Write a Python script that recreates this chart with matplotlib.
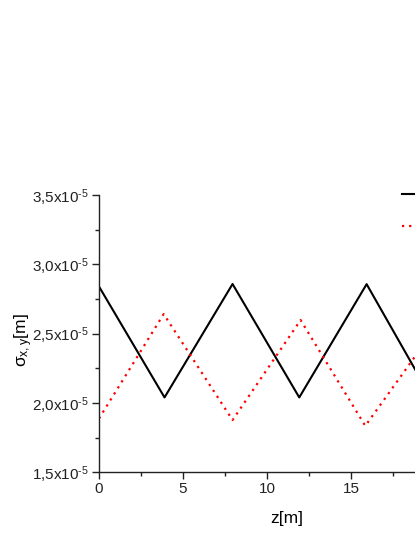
import matplotlib
matplotlib.use("Agg")
import matplotlib.pyplot as plt
from matplotlib.ticker import MultipleLocator, FixedLocator, FixedFormatter

plt.rcParams['font.family'] = ['Liberation Sans', 'DejaVu Sans']
plt.rcParams['mathtext.fontset'] = 'custom'
plt.rcParams['mathtext.rm'] = 'Liberation Sans'
plt.rcParams['mathtext.it'] = 'Liberation Sans:italic'

# data (sigma in units of 1e-5 m)
z_x = [0.0, 3.9, 7.95, 11.92, 15.93, 19.0]
sig_x = [2.84, 2.04, 2.858, 2.04, 2.857, 2.203]
z_y = [0.0, 3.85, 7.95, 12.0, 15.85, 19.0]
sig_y = [1.888, 2.641, 1.877, 2.598, 1.835, 2.367]

ytick_vals = [1.5, 2.0, 2.5, 3.0, 3.5]
ytick_labels = ['1,5x10$^{\\mathrm{‐5}}$', '2,0x10$^{\\mathrm{‐5}}$',
                '2,5x10$^{\\mathrm{‐5}}$', '3,0x10$^{\\mathrm{‐5}}$',
                '3,5x10$^{\\mathrm{‐5}}$']
xtick_vals = [0, 5, 10, 15]
xtick_labels = ['0', '5', '10', '15']

scale = 1e-5

fig = plt.figure(figsize=(4.15, 5.37), dpi=100)
ax = fig.add_axes([99/415, 1-472.3/537, 336/415, (472.3-195)/537])

ax.plot(z_x, [v*scale for v in sig_x], color='black', lw=1.5,
        label=r'$\mathrm{σ_x}$')
ax.plot(z_y, [v*scale for v in sig_y], color='red', lw=1.6,
        linestyle=(0, (1, 2.2)), label=r'$\mathrm{σ_y}$')

ax.set_xlim(0, 20)
ax.set_ylim(1.5*scale, 3.5*scale)
ax.xaxis.set_major_locator(FixedLocator(xtick_vals))
ax.xaxis.set_major_formatter(FixedFormatter(xtick_labels))
ax.xaxis.set_minor_locator(MultipleLocator(2.5))
ax.yaxis.set_major_locator(FixedLocator([v*scale for v in ytick_vals]))
ax.yaxis.set_major_formatter(FixedFormatter(ytick_labels))
ax.yaxis.set_minor_locator(MultipleLocator(0.25*scale))

for s in ['top', 'right']:
    ax.spines[s].set_visible(False)
for s in ['left', 'bottom']:
    ax.spines[s].set_linewidth(1.0)
    ax.spines[s].set_color('#222222')

ax.tick_params(which='major', direction='out', length=5, width=1,
               labelsize=11, colors='#222222', pad=2)
ax.tick_params(which='minor', direction='out', length=3, width=1,
               colors='#222222')

fig.text(287/415, 1-518/537, 'z[m]', fontsize=12.5, ha='center', va='center')
fig.text(24/415, 1-340/537, r'$\mathrm{σ_{x,y}}$[m]', fontsize=12.5,
         rotation=90, ha='center', va='center')

leg = ax.legend(loc='upper left', bbox_to_anchor=(402/415, 1-188/537),
                bbox_transform=fig.transFigure, frameon=False,
                borderpad=0, borderaxespad=0, handlelength=2.2,
                handletextpad=1.5, labelspacing=1.1, fontsize=11)

fig.savefig('out.png', dpi=100)
